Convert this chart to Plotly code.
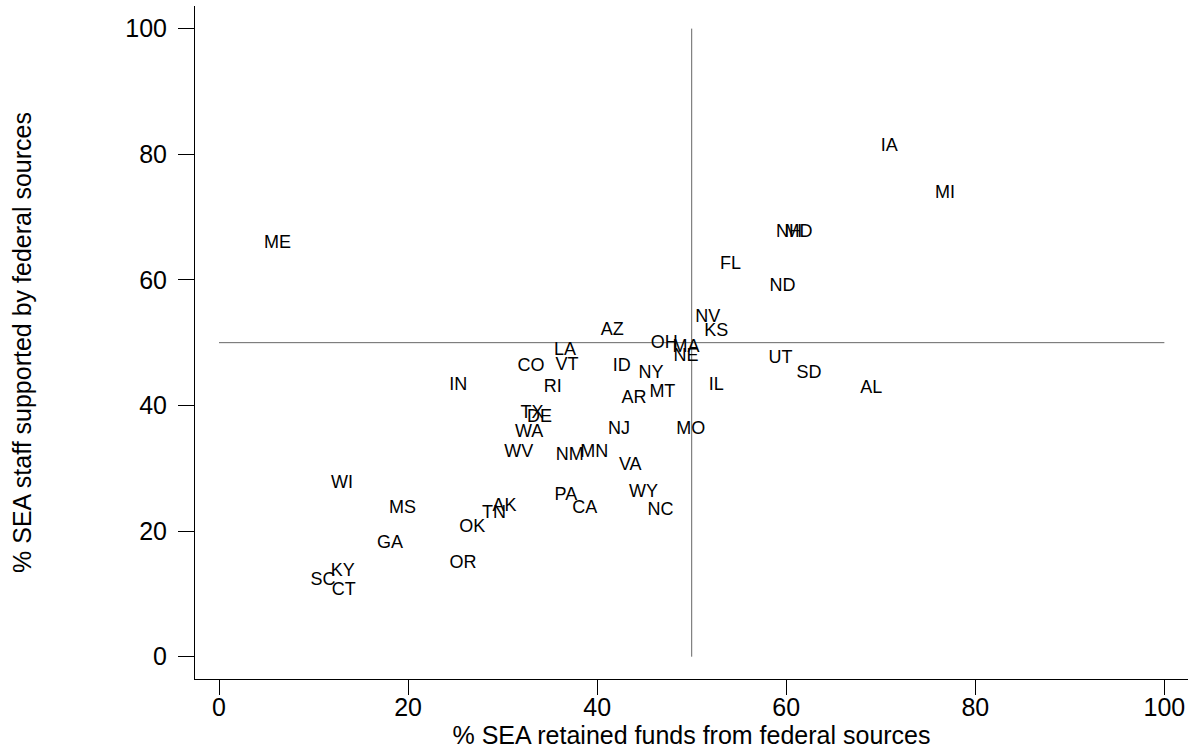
import plotly.graph_objects as go

states = ["IA", "MI", "ME", "NH", "MD", "FL", "ND", "NV", "KS", "AZ",
          "OH", "MA", "NE", "LA", "CO", "VT", "ID", "NY", "IN", "RI",
          "IL", "UT", "SD", "AL", "AR", "MT", "TX", "DE", "WA", "NJ",
          "MO", "WV", "NM", "MN", "VA", "WI", "MS", "AK", "TN", "PA",
          "CA", "WY", "NC", "OK", "GA", "OR", "KY", "SC", "CT"]
pct_funds = [70.9, 76.8, 6.2, 60.3, 61.3, 54.1, 59.6, 51.7, 52.6, 41.6,
             47.1, 49.4, 49.4, 36.6, 33.0, 36.8, 42.6, 45.7, 25.3, 35.3,
             52.6, 59.4, 62.4, 69.0, 43.9, 46.9, 33.1, 33.9, 32.8, 42.3,
             49.9, 31.7, 37.1, 39.7, 43.5, 13.0, 19.4, 30.2, 29.1, 36.7,
             38.7, 44.9, 46.7, 26.8, 18.1, 25.8, 13.1, 11.0, 13.2]
pct_staff = [81.2, 73.8, 65.8, 67.6, 67.6, 62.5, 59.0, 54.0, 51.8, 52.0,
             49.9, 49.3, 47.8, 48.8, 46.2, 46.4, 46.2, 45.1, 43.2, 42.9,
             43.2, 47.5, 45.1, 42.7, 41.1, 42.1, 38.7, 38.1, 35.7, 36.2,
             36.2, 32.5, 32.0, 32.5, 30.4, 27.6, 23.6, 23.9, 22.8, 25.7,
             23.6, 26.1, 23.3, 20.6, 18.0, 14.8, 13.5, 12.1, 10.5]

x_ref = 50
y_ref = 50
axis_min = 0
axis_max = 100
tick_vals = [0, 20, 40, 60, 80, 100]

FONT = "Liberation Sans, Arial, sans-serif"

fig = go.Figure()

# reference lines
fig.add_trace(go.Scatter(x=[x_ref, x_ref], y=[axis_min, axis_max], mode="lines",
                         line=dict(color="#666666", width=1), hoverinfo="skip",
                         showlegend=False))
fig.add_trace(go.Scatter(x=[axis_min, axis_max], y=[y_ref, y_ref], mode="lines",
                         line=dict(color="#666666", width=1), hoverinfo="skip",
                         showlegend=False))

fig.add_trace(go.Scatter(x=pct_funds, y=pct_staff, text=states, mode="text",
                         textposition="middle center",
                         textfont=dict(family=FONT, size=18, color="black"),
                         showlegend=False))

fig.update_layout(
    width=1197, height=753,
    margin=dict(l=195, r=9, t=6, b=74),
    plot_bgcolor="white", paper_bgcolor="white",
    font=dict(family=FONT, color="black"),
    xaxis=dict(range=[-2.54, 102.5], tickvals=tick_vals, showgrid=False,
               zeroline=False, showline=True, linecolor="black", linewidth=1,
               ticks="outside", ticklen=15, tickcolor="black",
               tickfont=dict(size=25), ticklabelstandoff=-9,
               title=dict(text="% SEA retained funds from federal sources",
                          font=dict(size=25), standoff=2)),
    yaxis=dict(range=[-3.55, 103.6], tickvals=tick_vals, showgrid=False,
               zeroline=False, showline=True, linecolor="black", linewidth=1,
               ticks="outside", ticklen=16, tickcolor="black",
               tickfont=dict(size=25), ticklabelstandoff=6,
               title=dict(text="% SEA staff supported by federal sources",
                          font=dict(size=25), standoff=86)),
)

fig.write_html("out.html", config={"displayModeBar": False},
               post_script="document.body.style.margin='0';")
